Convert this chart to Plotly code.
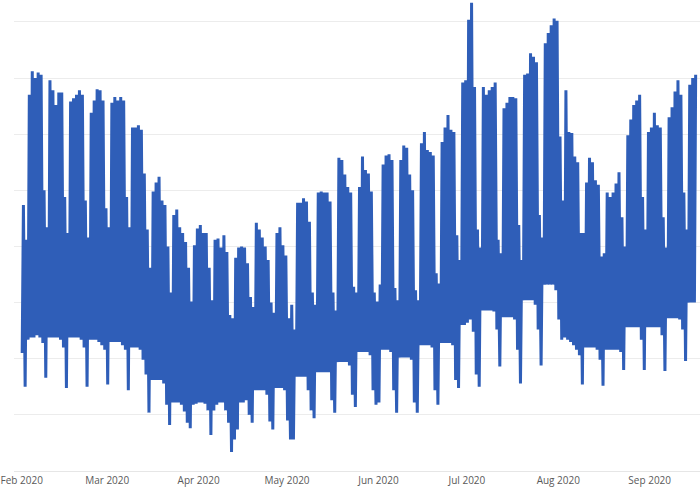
import plotly.graph_objects as go
import pandas as pd

# Hourly load, summarised per day (Feb 1 - Sep 16, 2020): daily peak and night trough
start_day = "2020-02-01"
trough_hour = 4
peak_hour = 14

daily_peak = [
    38.7, 35.6,                               # Feb 1-2
    48.5, 50.6, 50.0, 50.5, 50.3, 40.0, 36.7,  # Feb 3-9
    49.8, 48.9, 47.6, 48.7, 48.7, 39.4, 36.2,  # Feb 10-16
    47.9, 48.2, 48.5, 48.9, 48.5, 39.1, 35.8,  # Feb 17-23
    46.9, 48.0, 49.0, 48.9, 48.0, 38.4, 36.7,  # Feb 24-Mar 1
    47.8, 48.3, 48.0, 48.3, 48.0, 39.4, 36.7,  # Mar 2-8
    45.6, 45.6, 45.8, 45.4, 41.5, 36.5, 33.1,  # Mar 9-15
    39.9, 40.7, 41.2, 39.1, 38.7, 35.0, 30.9,  # Mar 16-22
    37.8, 38.3, 36.7, 36.2, 35.4, 33.1, 30.1,  # Mar 23-29
    35.1, 36.6, 36.9, 36.2, 36.2, 33.1, 30.2,  # Mar 30-Apr 5
    35.6, 35.7, 34.9, 36.0, 34.5, 28.9, 28.6,  # Apr 6-12
    34.0, 34.9, 35.0, 34.9, 33.5, 30.5, 29.6,  # Apr 13-19
    37.1, 36.5, 35.8, 35.0, 33.8, 30.0, 29.1,  # Apr 20-26
    36.2, 36.7, 35.1, 34.2, 28.6, 29.8, 27.6,  # Apr 27-May 3
    38.9, 38.9, 39.3, 39.0, 37.2, 30.9, 29.8,  # May 4-10
    39.8, 39.9, 39.8, 39.8, 39.0, 30.9, 29.3,  # May 11-17
    42.9, 42.7, 41.4, 40.3, 39.8, 31.4, 30.9,  # May 18-24
    40.3, 43.0, 41.8, 41.5, 39.9, 30.9, 30.1,  # May 25-31
    31.6, 42.3, 43.1, 43.2, 42.7, 31.3, 30.2,  # Jun 1-7
    42.7, 44.0, 43.8, 41.4, 40.0, 31.1, 30.2,  # Jun 8-14
    44.2, 45.2, 43.6, 43.4, 43.1, 32.6, 31.7,  # Jun 15-21
    44.3, 45.6, 46.7, 45.4, 45.2, 36.0, 33.8,  # Jun 22-28
    49.6, 49.8, 55.2, 56.7, 49.2, 36.5, 34.9,  # Jun 29-Jul 5
    49.2, 48.5, 48.9, 49.2, 49.6, 35.6, 34.4,  # Jul 6-12
    47.3, 47.8, 48.3, 48.3, 48.2, 36.9, 33.8,  # Jul 13-19
    50.3, 50.4, 52.2, 51.9, 51.4, 37.8, 35.8,  # Jul 20-26
    53.1, 54.0, 54.7, 55.3, 55.1, 44.8, 39.1,  # Jul 27-Aug 2
    48.9, 45.2, 45.1, 43.0, 42.5, 36.2, 36.2,  # Aug 3-9
    40.7, 42.9, 42.5, 40.9, 40.5, 34.1, 34.4,  # Aug 10-16
    39.8, 39.4, 39.8, 40.6, 41.6, 37.6, 35.0,  # Aug 17-23
    44.9, 46.3, 47.6, 48.0, 48.5, 39.4, 36.5,  # Aug 24-30
    45.2, 45.6, 46.9, 45.8, 45.6, 37.6, 34.9,  # Aug 31-Sep 6
    46.5, 47.4, 48.8, 49.8, 48.5, 39.8, 36.5,  # Sep 7-13
    49.4, 50.0, 50.3,                          # Sep 14-16
]

daily_trough = [
    25.5, 22.5,
    26.7, 26.9, 26.9, 27.1, 26.9, 26.4, 23.3,
    26.9, 26.9, 26.9, 26.9, 26.7, 26.0, 22.4,
    26.9, 26.9, 26.9, 26.9, 26.7, 26.0, 22.5,
    26.7, 26.7, 26.7, 26.5, 26.2, 25.8, 22.7,
    26.5, 26.5, 26.5, 26.5, 26.2, 25.8, 22.2,
    26.0, 26.0, 26.0, 25.8, 24.9, 23.6, 20.2,
    23.1, 23.1, 23.1, 23.1, 22.8, 20.9, 19.1,
    21.1, 21.1, 21.1, 20.9, 20.3, 19.3, 18.8,
    20.9, 21.0, 21.1, 21.1, 21.0, 20.4, 18.2,
    20.4, 20.9, 21.1, 21.1, 20.4, 19.3, 16.7,
    17.8, 18.7, 21.1, 21.1, 21.3, 20.0, 19.3,
    22.2, 22.2, 22.2, 22.2, 21.8, 19.4, 18.7,
    22.4, 22.4, 22.4, 22.2, 19.5, 17.8, 17.8,
    23.4, 23.4, 23.4, 23.4, 22.2, 20.4, 19.7,
    23.8, 23.8, 23.8, 23.8, 23.8, 21.3, 20.2,
    24.7, 24.7, 24.7, 24.7, 24.4, 21.8, 20.7,
    25.6, 25.6, 25.6, 25.6, 25.3, 22.2, 20.9,
    21.1, 25.8, 25.8, 25.8, 25.6, 22.2, 20.2,
    25.1, 25.1, 25.1, 25.1, 24.9, 21.1, 20.2,
    26.2, 26.2, 26.2, 26.2, 26.0, 22.2, 20.9,
    26.4, 26.4, 26.4, 26.4, 26.2, 23.1, 22.4,
    28.0, 28.0, 28.2, 28.5, 27.4, 23.6, 22.5,
    29.3, 29.3, 29.3, 29.3, 29.2, 27.6, 24.3,
    28.7, 28.7, 28.7, 28.7, 28.5, 25.8, 22.8,
    30.2, 30.2, 30.2, 30.2, 29.8, 27.6, 24.4,
    31.6, 31.6, 31.6, 31.6, 31.1, 28.5, 26.7,
    26.9, 26.7, 26.5, 26.2, 25.8, 25.3, 22.7,
    26.0, 26.0, 26.0, 26.0, 25.8, 24.9, 22.6,
    25.8, 25.8, 25.8, 25.8, 25.8, 25.6, 24.0,
    27.8, 27.8, 27.8, 27.8, 27.8, 26.7, 24.0,
    27.8, 27.8, 27.8, 27.8, 27.8, 27.1, 23.9,
    28.6, 28.6, 28.6, 28.6, 28.5, 27.6, 24.8,
    30.0, 30.0, 30.0,
]

days = pd.date_range(start_day, periods=len(daily_peak), freq="D")
times, values = [], []
for day, lo, hi in zip(days, daily_trough, daily_peak):
    times.append(day + pd.Timedelta(hours=trough_hour))
    values.append(lo)
    times.append(day + pd.Timedelta(hours=peak_hour))
    values.append(hi)

fig = go.Figure(
    go.Scatter(
        x=times, y=values, mode="lines",
        line=dict(color="#2f5eb8", width=3),
        hoverinfo="skip",
    )
)

fig.update_layout(
    width=700, height=491,
    margin=dict(l=14, r=0, t=0, b=20),
    paper_bgcolor="white", plot_bgcolor="white",
    showlegend=False,
    font=dict(family="Open Sans", size=10, color="#595959"),
)
fig.update_xaxes(
    range=["2020-01-29 09:18", "2020-09-18 01:26"],
    dtick="M1", tickformat="%b %Y", tick0="2020-02-01",
    showgrid=False, zeroline=False,
    showline=True, linecolor="#e6e6e6", linewidth=1,
    ticks="", tickfont=dict(family="Open Sans", size=10, color="#595959"),
    ticklabeloverflow="allow", automargin=False,
)
fig.update_yaxes(
    range=[15, 56.95], dtick=5, tick0=0,
    showgrid=True, gridcolor="#ececec", gridwidth=1,
    zeroline=False, showticklabels=False, ticks="", automargin=False,
)

fig.write_html(
    "out.html",
    config={"displayModeBar": False},
    post_script="document.body.style.margin='0';document.body.style.padding='0';",
)
